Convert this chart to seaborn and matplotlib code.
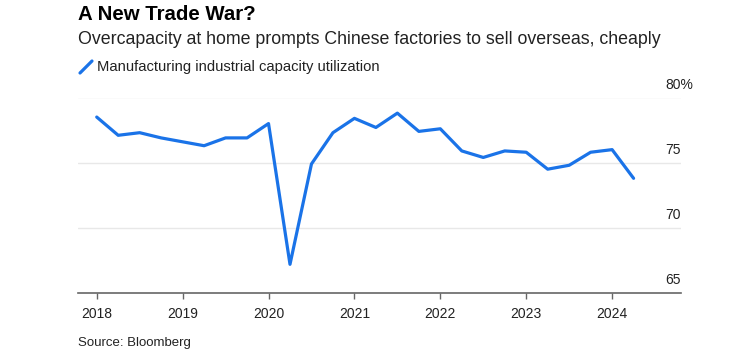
import numpy as np
import pandas as pd
import seaborn as sns
import matplotlib.pyplot as plt
from matplotlib.lines import Line2D

# quarterly capacity utilization, 2018Q1 .. 2024Q2
quarters = pd.period_range("2018Q1", "2024Q2", freq="Q")
utilization = [78.5, 77.1, 77.3, 76.9, 76.6, 76.3, 76.9, 76.9,
               78.0, 67.2, 74.9, 77.3, 78.4, 77.7, 78.8, 77.4,
               77.6, 75.9, 75.4, 75.9, 75.8, 74.5, 74.8, 75.8,
               76.0, 73.8]
year_ticks = [2018, 2019, 2020, 2021, 2022, 2023, 2024]
y_ticks = [65, 70, 75, 80]
y_labels = ["65", "70", "75", "80%"]

df = pd.DataFrame({
    "t": [p.year + (p.quarter - 1) / 4 for p in quarters],
    "value": utilization,
})

sns.set_theme(style="white")
plt.rcParams["font.family"] = ["Liberation Sans", "DejaVu Sans"]

BLUE = "#1a73e8"
fig = plt.figure(figsize=(7.5, 3.64), dpi=100)
ax = fig.add_axes([78 / 750, 1 - 293 / 364, (681 - 78) / 750, (293 - 97.5) / 364])

sns.lineplot(data=df, x="t", y="value", ax=ax, color=BLUE, linewidth=2.3)

ax.set_xlim(2017.782, 2024.802)
ax.set_ylim(65, 80)
ax.set_xlabel("")
ax.set_ylabel("")

# gridlines
for v in y_ticks[1:]:
    ax.axhline(v, color="#e8e8e8", linewidth=1, zorder=0)
ax.set_yticks([])

# y labels sitting above the gridlines, at the right
for v, lab in zip(y_ticks, y_labels):
    ax.annotate(lab, xy=(0.974, v), xycoords=("axes fraction", "data"),
                xytext=(0, 9), textcoords="offset points",
                ha="left", va="center", fontsize=10, color="#222222")

for s in ["top", "right", "left"]:
    ax.spines[s].set_visible(False)
ax.spines["bottom"].set_color("#666666")
ax.spines["bottom"].set_linewidth(1.2)

ax.set_xticks(year_ticks)
ax.set_xticklabels([str(y) for y in year_ticks], fontsize=10, color="#222222")
ax.tick_params(axis="x", direction="out", length=4, width=1, color="#666666",
               pad=6, bottom=True)

# header
fig.text(78 / 750, 1 - 15 / 364, "A New Trade War?", fontsize=14.7,
         fontweight="bold", va="center", ha="left", color="#000000")
fig.text(78 / 750, 1 - 40 / 364,
         "Overcapacity at home prompts Chinese factories to sell overseas, cheaply",
         fontsize=12.75, va="center", ha="left", color="#222222")
fig.add_artist(Line2D([80 / 750, 92 / 750], [1 - 73 / 364, 1 - 61 / 364],
                      color=BLUE, linewidth=2.3, transform=fig.transFigure))
fig.text(97 / 750, 1 - 67 / 364, "Manufacturing industrial capacity utilization",
         fontsize=10.6, va="center", ha="left", color="#222222")

fig.text(78 / 750, 1 - 343 / 364, "Source: Bloomberg", fontsize=9.5,
         va="center", ha="left", color="#222222")

fig.savefig("out.png", dpi=100, facecolor="white")
